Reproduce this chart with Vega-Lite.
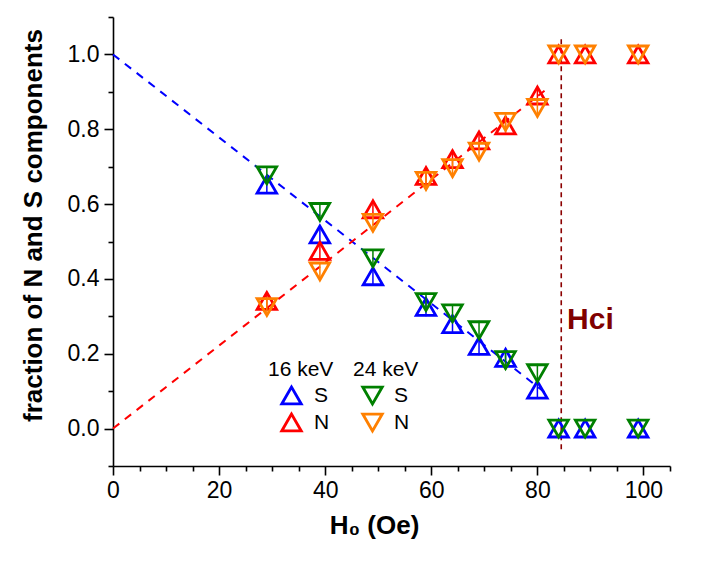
{
  "$schema": "https://vega.github.io/schema/vega-lite/v6.json",
  "width": 557,
  "height": 449,
  "autosize": {"type": "none"},
  "padding": {"left": 113, "top": 17, "right": 36, "bottom": 105},
  "background": "white",
  "config": {
    "font": "Liberation Sans",
    "view": {"stroke": null},
    "axis": {
      "domainColor": "black", "domainWidth": 1.6,
      "tickColor": "black", "tickWidth": 1.6,
      "labelColor": "black", "labelFontSize": 23, "labelFont": "Liberation Sans",
      "titleColor": "black", "titleFontSize": 26, "titleFontWeight": "bold", "titleFont": "Liberation Sans",
      "grid": false, "labelOverlap": false, "labelFlush": false
    },
    "legend": {
      "titleFontSize": 21, "titleFontWeight": "normal", "titleColor": "black", "titleFont": "Liberation Sans",
      "labelFontSize": 21, "labelColor": "black", "labelFont": "Liberation Sans",
      "symbolSize": 380, "symbolStrokeWidth": 2.8, "padding": 0, "rowPadding": -2, "titlePadding": 4
    }
  },
  "datasets": {
    "k16": [
      {"H": 29, "frac": 0.652, "comp": "S", "err": 0.025},
      {"H": 39, "frac": 0.519, "comp": "S", "err": 0.025},
      {"H": 49, "frac": 0.407, "comp": "S", "err": 0.025},
      {"H": 59, "frac": 0.325, "comp": "S", "err": 0.025},
      {"H": 64, "frac": 0.279, "comp": "S", "err": 0.025},
      {"H": 69, "frac": 0.221, "comp": "S", "err": 0.025},
      {"H": 74, "frac": 0.189, "comp": "S", "err": 0.025},
      {"H": 80, "frac": 0.104, "comp": "S", "err": 0.025},
      {"H": 84, "frac": 0.0, "comp": "S", "err": 0},
      {"H": 89, "frac": 0.0, "comp": "S", "err": 0},
      {"H": 99, "frac": 0.0, "comp": "S", "err": 0},
      {"H": 29, "frac": 0.341, "comp": "N", "err": 0.025},
      {"H": 39, "frac": 0.475, "comp": "N", "err": 0.025},
      {"H": 49, "frac": 0.586, "comp": "N", "err": 0.025},
      {"H": 59, "frac": 0.675, "comp": "N", "err": 0.025},
      {"H": 64, "frac": 0.72, "comp": "N", "err": 0.025},
      {"H": 69, "frac": 0.77, "comp": "N", "err": 0.025},
      {"H": 74, "frac": 0.81, "comp": "N", "err": 0.025},
      {"H": 80, "frac": 0.89, "comp": "N", "err": 0.025},
      {"H": 84, "frac": 1.0, "comp": "N", "err": 0},
      {"H": 89, "frac": 1.0, "comp": "N", "err": 0},
      {"H": 99, "frac": 1.0, "comp": "N", "err": 0}
    ],
    "k24": [
      {"H": 29, "frac": 0.677, "comp": "S", "err": 0.025},
      {"H": 39, "frac": 0.579, "comp": "S", "err": 0.025},
      {"H": 49, "frac": 0.455, "comp": "S", "err": 0.025},
      {"H": 59, "frac": 0.338, "comp": "S", "err": 0.025},
      {"H": 64, "frac": 0.308, "comp": "S", "err": 0.025},
      {"H": 69, "frac": 0.263, "comp": "S", "err": 0.025},
      {"H": 74, "frac": 0.183, "comp": "S", "err": 0.025},
      {"H": 80, "frac": 0.148, "comp": "S", "err": 0.025},
      {"H": 84, "frac": 0.0, "comp": "S", "err": 0},
      {"H": 89, "frac": 0.0, "comp": "S", "err": 0},
      {"H": 99, "frac": 0.0, "comp": "S", "err": 0},
      {"H": 29, "frac": 0.325, "comp": "N", "err": 0.025},
      {"H": 39, "frac": 0.42, "comp": "N", "err": 0.025},
      {"H": 49, "frac": 0.55, "comp": "N", "err": 0.025},
      {"H": 59, "frac": 0.662, "comp": "N", "err": 0.025},
      {"H": 64, "frac": 0.696, "comp": "N", "err": 0.025},
      {"H": 69, "frac": 0.74, "comp": "N", "err": 0.025},
      {"H": 74, "frac": 0.82, "comp": "N", "err": 0.025},
      {"H": 80, "frac": 0.857, "comp": "N", "err": 0.025},
      {"H": 84, "frac": 1.0, "comp": "N", "err": 0},
      {"H": 89, "frac": 1.0, "comp": "N", "err": 0},
      {"H": 99, "frac": 1.0, "comp": "N", "err": 0}
    ],
    "fits": [
      {"H": 0, "frac": 1.0, "comp": "S"},
      {"H": 82, "frac": 0.09, "comp": "S"},
      {"H": 0, "frac": 0.0, "comp": "N"},
      {"H": 82, "frac": 0.91, "comp": "N"}
    ]
  },
  "layer": [
    {
      "data": {"values": [{}]},
      "mark": {"type": "rule", "color": "#8B0000", "strokeDash": [5, 4], "strokeWidth": 1.6},
      "encoding": {
        "x": {
          "datum": 84.5, "type": "quantitative",
          "scale": {"domain": [0, 105], "nice": false, "zero": false},
          "axis": {
            "values": [0, 5, 10, 15, 20, 25, 30, 35, 40, 45, 50, 55, 60, 65, 70, 75, 80, 85, 90, 95, 100, 105],
            "labelExpr": "datum.value % 20 == 0 ? datum.label : ''",
            "tickSize": {"condition": {"test": "datum.value % 20 == 0", "value": 9}, "value": 5},
            "labelPadding": 4,
            "title": "H₀ (Oe)",
            "titleX": 261,
            "titlePadding": 10
          }
        },
        "y": {
          "datum": -0.055, "type": "quantitative",
          "scale": {"domain": [-0.1, 1.1], "nice": false, "zero": false},
          "axis": {
            "values": [-0.1, 0, 0.1, 0.2, 0.3, 0.4, 0.5, 0.6, 0.7, 0.8, 0.9, 1.0, 1.1],
            "format": ".1f",
            "labelExpr": "(datum.value > -0.05 && datum.value < 1.05 && round(datum.value * 10) % 2 == 0) ? datum.label : ''",
            "tickSize": {"condition": {"test": "datum.value > -0.05 && datum.value < 1.05 && round(datum.value * 10) % 2 == 0", "value": 9}, "value": 5},
            "labelPadding": 5,
            "title": "fraction of N and S components",
            "titleY": 208,
            "titlePadding": 21
          }
        },
        "y2": {"datum": 1.045}
      }
    },
    {
      "encoding": {
        "x": {
          "field": "H", "type": "quantitative",
          "scale": {"domain": [0, 105], "nice": false, "zero": false},
          "axis": {
            "values": [0, 5, 10, 15, 20, 25, 30, 35, 40, 45, 50, 55, 60, 65, 70, 75, 80, 85, 90, 95, 100, 105],
            "labelExpr": "datum.value % 20 == 0 ? datum.label : ''",
            "tickSize": {"condition": {"test": "datum.value % 20 == 0", "value": 9}, "value": 5},
            "labelPadding": 4,
            "title": "H₀ (Oe)",
            "titleX": 261,
            "titlePadding": 10
          }
        },
        "y": {
          "field": "frac", "type": "quantitative",
          "scale": {"domain": [-0.1, 1.1], "nice": false, "zero": false},
          "axis": {
            "values": [-0.1, 0, 0.1, 0.2, 0.3, 0.4, 0.5, 0.6, 0.7, 0.8, 0.9, 1.0, 1.1],
            "format": ".1f",
            "labelExpr": "(datum.value > -0.05 && datum.value < 1.05 && round(datum.value * 10) % 2 == 0) ? datum.label : ''",
            "tickSize": {"condition": {"test": "datum.value > -0.05 && datum.value < 1.05 && round(datum.value * 10) % 2 == 0", "value": 9}, "value": 5},
            "labelPadding": 5,
            "title": "fraction of N and S components",
            "titleY": 208,
            "titlePadding": 21
          }
        }
      },
      "layer": [
        {
          "data": {"name": "fits"},
          "mark": {"type": "line", "strokeDash": [8, 7], "strokeWidth": 2},
          "encoding": {
            "color": {"field": "comp", "type": "nominal", "scale": {"domain": ["S", "N"], "range": ["#0000FF", "#FF0000"]}, "legend": null}
          }
        },
        {
          "data": {"name": "k16"},
          "encoding": {
            "color": {"field": "comp", "type": "nominal", "scale": {"domain": ["S", "N"], "range": ["#0000FF", "#FF0000"]},
              "legend": {"title": "16 keV", "orient": "none", "legendX": 155, "legendY": 342, "symbolOffset": 12, "labelOffset": 11, "symbolType": "triangle-up", "symbolFillColor": "transparent"}}
          },
          "layer": [
            {"mark": {"type": "errorbar", "thickness": 1.5}, "encoding": {"yError": {"field": "err"}}},
            {"mark": {"type": "point", "shape": "triangle-up", "filled": false, "size": 380, "strokeWidth": 2.8, "opacity": 1}}
          ]
        },
        {
          "data": {"name": "k24"},
          "encoding": {
            "color": {"field": "comp", "type": "nominal", "scale": {"domain": ["S", "N"], "range": ["#008000", "#FF8000"]},
              "legend": {"title": "24 keV", "orient": "none", "legendX": 240, "legendY": 342, "symbolOffset": 8, "labelOffset": 10, "symbolType": "triangle-down", "symbolFillColor": "transparent"}}
          },
          "layer": [
            {"mark": {"type": "errorbar", "thickness": 1.5}, "encoding": {"yError": {"field": "err"}}},
            {"mark": {"type": "point", "shape": "triangle-down", "filled": false, "size": 380, "strokeWidth": 2.8, "opacity": 1}}
          ]
        }
      ],
      "resolve": {"scale": {"color": "independent"}, "legend": {"color": "independent"}}
    },
    {
      "data": {"values": [{}]},
      "mark": {"type": "text", "font": "Liberation Sans", "fontSize": 30, "fontWeight": "bold", "color": "#800000", "align": "left", "baseline": "alphabetic"},
      "encoding": {
        "x": {
          "datum": 85.6, "type": "quantitative",
          "scale": {"domain": [0, 105], "nice": false, "zero": false},
          "axis": {
            "values": [0, 5, 10, 15, 20, 25, 30, 35, 40, 45, 50, 55, 60, 65, 70, 75, 80, 85, 90, 95, 100, 105],
            "labelExpr": "datum.value % 20 == 0 ? datum.label : ''",
            "tickSize": {"condition": {"test": "datum.value % 20 == 0", "value": 9}, "value": 5},
            "labelPadding": 4,
            "title": "H₀ (Oe)",
            "titleX": 261,
            "titlePadding": 10
          }
        },
        "y": {
          "datum": 0.267, "type": "quantitative",
          "scale": {"domain": [-0.1, 1.1], "nice": false, "zero": false},
          "axis": {
            "values": [-0.1, 0, 0.1, 0.2, 0.3, 0.4, 0.5, 0.6, 0.7, 0.8, 0.9, 1.0, 1.1],
            "format": ".1f",
            "labelExpr": "(datum.value > -0.05 && datum.value < 1.05 && round(datum.value * 10) % 2 == 0) ? datum.label : ''",
            "tickSize": {"condition": {"test": "datum.value > -0.05 && datum.value < 1.05 && round(datum.value * 10) % 2 == 0", "value": 9}, "value": 5},
            "labelPadding": 5,
            "title": "fraction of N and S components",
            "titleY": 208,
            "titlePadding": 21
          }
        },
        "text": {"value": "Hci"}
      }
    }
  ]
}
